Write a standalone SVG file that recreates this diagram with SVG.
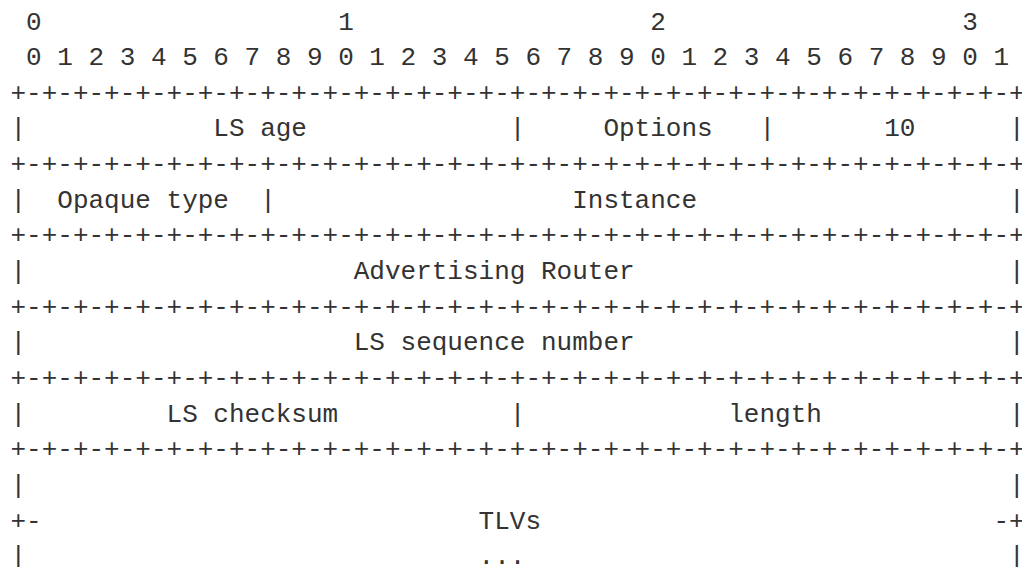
<svg xmlns="http://www.w3.org/2000/svg" width="1022" height="567" viewBox="0 0 1022 567">
<style>
  text { font-family: "Liberation Mono", "Courier New", monospace; font-size: 26px; fill: #333333; white-space: pre; }
</style>
<rect width="1022" height="567" fill="#ffffff"/>
<g id="diagram" xml:space="preserve">
<text x="10.5" y="29.5"> 0                   1                   2                   3</text>
<text x="10.5" y="65.15"> 0 1 2 3 4 5 6 7 8 9 0 1 2 3 4 5 6 7 8 9 0 1 2 3 4 5 6 7 8 9 0 1</text>
<text x="10.5" y="100.8">+-+-+-+-+-+-+-+-+-+-+-+-+-+-+-+-+-+-+-+-+-+-+-+-+-+-+-+-+-+-+-+-+</text>
<text x="10.5" y="136.45">|            LS age             |     Options   |       10      |</text>
<text x="10.5" y="172.1">+-+-+-+-+-+-+-+-+-+-+-+-+-+-+-+-+-+-+-+-+-+-+-+-+-+-+-+-+-+-+-+-+</text>
<text x="10.5" y="207.75">|  Opaque type  |                   Instance                    |</text>
<text x="10.5" y="243.4">+-+-+-+-+-+-+-+-+-+-+-+-+-+-+-+-+-+-+-+-+-+-+-+-+-+-+-+-+-+-+-+-+</text>
<text x="10.5" y="279.05">|                     Advertising Router                        |</text>
<text x="10.5" y="314.7">+-+-+-+-+-+-+-+-+-+-+-+-+-+-+-+-+-+-+-+-+-+-+-+-+-+-+-+-+-+-+-+-+</text>
<text x="10.5" y="350.35">|                     LS sequence number                        |</text>
<text x="10.5" y="386">+-+-+-+-+-+-+-+-+-+-+-+-+-+-+-+-+-+-+-+-+-+-+-+-+-+-+-+-+-+-+-+-+</text>
<text x="10.5" y="421.65">|         LS checksum           |             length            |</text>
<text x="10.5" y="457.3">+-+-+-+-+-+-+-+-+-+-+-+-+-+-+-+-+-+-+-+-+-+-+-+-+-+-+-+-+-+-+-+-+</text>
<text x="10.5" y="492.95">|                                                               |</text>
<text x="10.5" y="528.6">+-                            TLVs                             -+</text>
<text x="10.5" y="564.25">|                             ...                               |</text>
</g>
</svg>
